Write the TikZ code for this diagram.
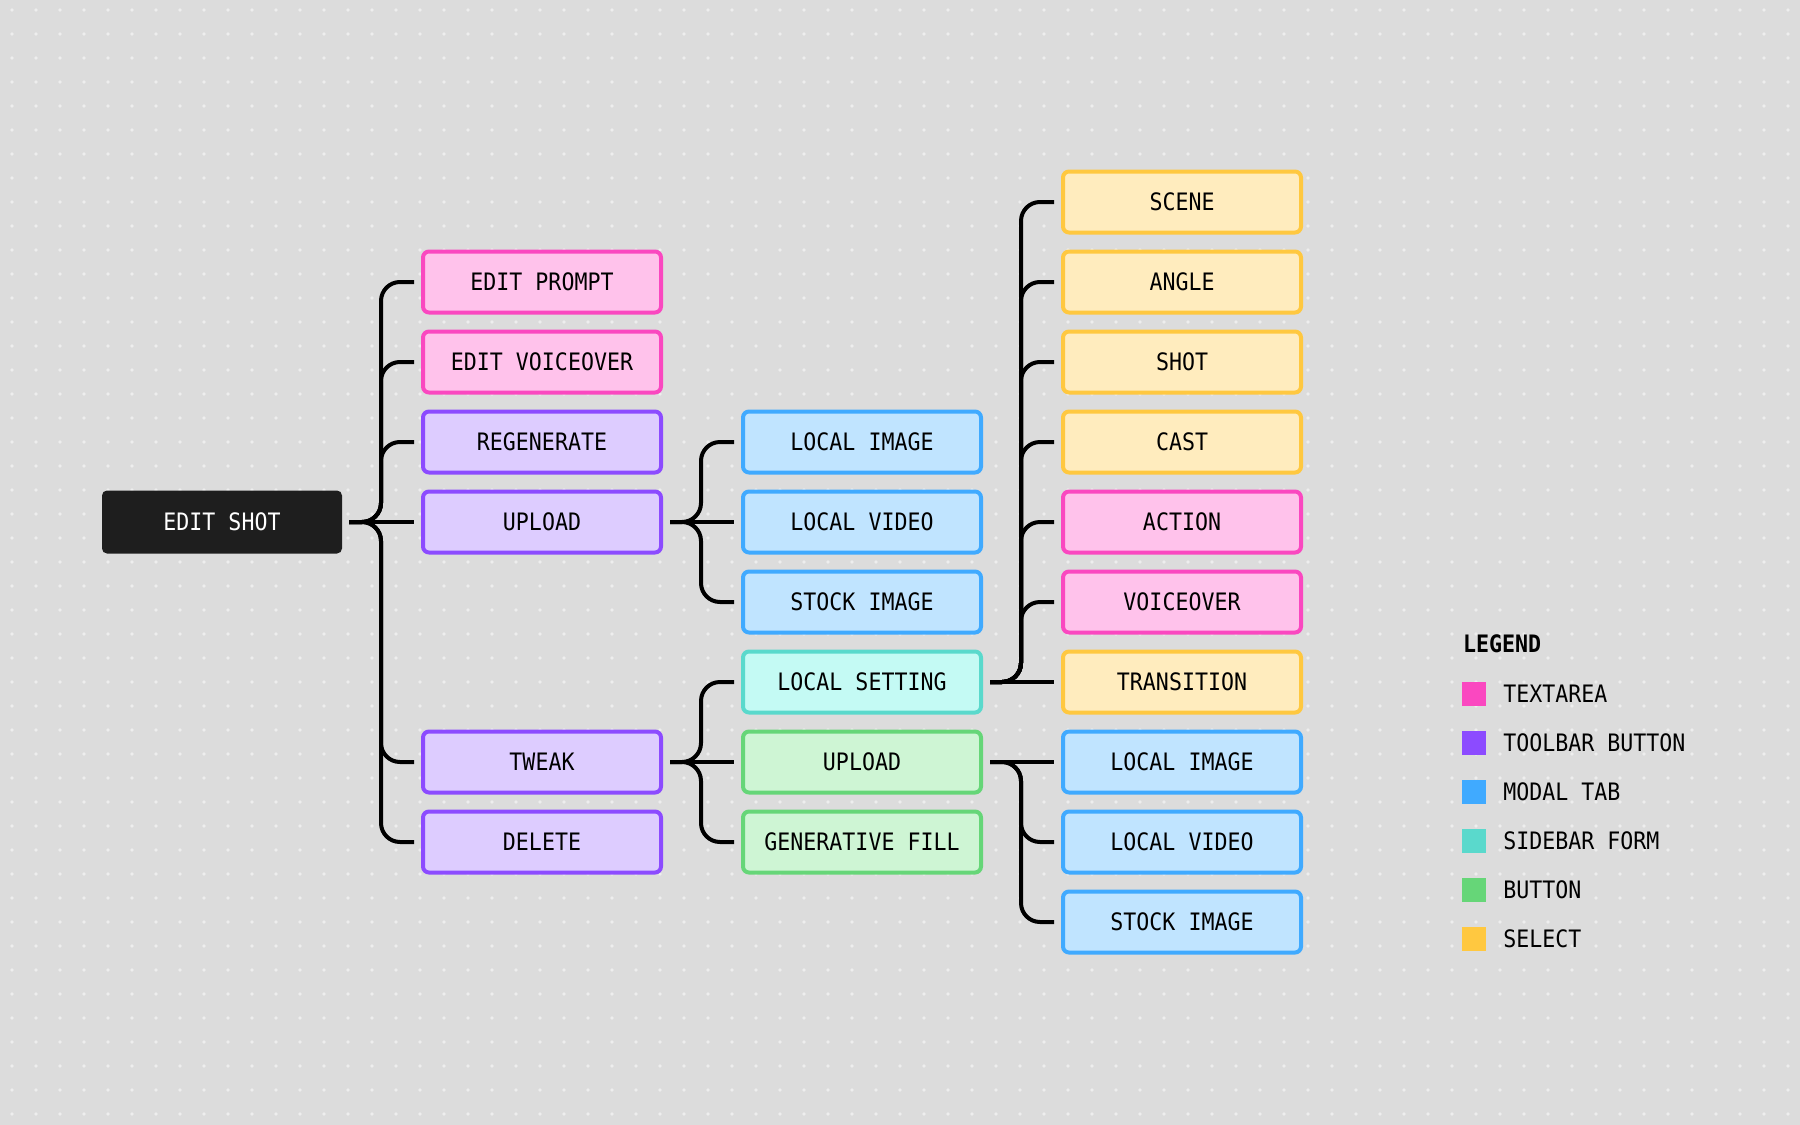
\documentclass[tikz,border=0pt]{standalone}
\usepackage{fontspec}
\setmonofont{DejaVu Sans Mono}[FakeStretch=0.9]
\usepackage{xcolor}
\usetikzlibrary{positioning}
\definecolor{bgc}{HTML}{DCDCDC}
\definecolor{dotc}{HTML}{EEEEEE}
\definecolor{dark}{HTML}{1E1E1E}
\definecolor{pinkline}{HTML}{FA48C0}
\definecolor{pinkfill}{HTML}{FFC2EB}
\definecolor{purpline}{HTML}{8C4BFF}
\definecolor{purpfill}{HTML}{DDCCFF}
\definecolor{blueline}{HTML}{40AAFF}
\definecolor{bluefill}{HTML}{C0E4FF}
\definecolor{tealline}{HTML}{5AD9CC}
\definecolor{tealfill}{HTML}{C4FAF4}
\definecolor{greenline}{HTML}{66D678}
\definecolor{greenfill}{HTML}{CEF5D4}
\definecolor{yellline}{HTML}{FFC840}
\definecolor{yellfill}{HTML}{FFECBE}

\begin{document}
\begin{tikzpicture}[x=1pt, y=-1pt,
  lbl/.style={inner sep=0pt, text height=17.5pt, text depth=0pt, font=\ttfamily\fontsize{24}{28}\selectfont},
  box/.style={lbl, draw, line width=4pt, rounded corners=6pt, minimum width=238pt, minimum height=61pt},
  textarea/.style={box, draw=pinkline, fill=pinkfill},
  toolbar/.style={box, draw=purpline, fill=purpfill},
  modaltab/.style={box, draw=blueline, fill=bluefill},
  sidebar/.style={box, draw=tealline, fill=tealfill},
  btn/.style={box, draw=greenline, fill=greenfill},
  selectbox/.style={box, draw=yellline, fill=yellfill},
  link/.style={line width=4pt, rounded corners=19pt},
  swatch/.style={minimum size=24pt, inner sep=0pt}]
\fill[bgc] (0,0) rectangle (1800,1125);
\useasboundingbox (0,0) rectangle (1800,1125);
\foreach \i in {0,...,74}
  \foreach \j in {0,...,46}
    \fill[dotc] (12+24*\i, 10+24*\j) circle (1.9);

\node[lbl, fill=dark, text=white, rounded corners=5pt, minimum width=240pt, minimum height=63pt] (shot) at (222, 522) {EDIT SHOT};

\node[textarea] (prompt) at (542, 282) {EDIT PROMPT};
\node[textarea] (voice) at (542, 362) {EDIT VOICEOVER};
\node[toolbar] (regen) at (542, 442) {REGENERATE};
\node[toolbar] (upload) at (542, 522) {UPLOAD};
\node[toolbar] (tweak) at (542, 762) {TWEAK};
\node[toolbar] (delete) at (542, 842) {DELETE};

\node[modaltab] (limage) at (862, 442) {LOCAL IMAGE};
\node[modaltab] (lvideo) at (862, 522) {LOCAL VIDEO};
\node[modaltab] (simage) at (862, 602) {STOCK IMAGE};
\node[sidebar] (lsetting) at (862, 682) {LOCAL SETTING};
\node[btn] (tupload) at (862, 762) {UPLOAD};
\node[btn] (genfill) at (862, 842) {GENERATIVE FILL};

\node[selectbox] (scene) at (1182, 202) {SCENE};
\node[selectbox] (angle) at (1182, 282) {ANGLE};
\node[selectbox] (shotsel) at (1182, 362) {SHOT};
\node[selectbox] (cast) at (1182, 442) {CAST};
\node[textarea] (action) at (1182, 522) {ACTION};
\node[textarea] (svoice) at (1182, 602) {VOICEOVER};
\node[selectbox] (trans) at (1182, 682) {TRANSITION};
\node[modaltab] (tlimage) at (1182, 762) {LOCAL IMAGE};
\node[modaltab] (tlvideo) at (1182, 842) {LOCAL VIDEO};
\node[modaltab] (tsimage) at (1182, 922) {STOCK IMAGE};

\foreach \a/\b in {shot/prompt, shot/voice, shot/regen, shot/tweak, shot/delete,
    upload/limage, upload/simage, tweak/lsetting, tweak/genfill,
    lsetting/scene, lsetting/angle, lsetting/shotsel, lsetting/cast, lsetting/action, lsetting/svoice,
    tupload/tlvideo, tupload/tsimage}
  \draw[link] ([xshift=7pt]\a.east) -| ([xshift=-40pt]\b.west) -- ([xshift=-7pt]\b.west);
\foreach \a/\b in {shot/upload, upload/lvideo, tweak/tupload, lsetting/trans, tupload/tlimage}
  \draw[line width=4pt] ([xshift=7pt]\a.east) -- ([xshift=-7pt]\b.west);

\node[lbl, font=\ttfamily\bfseries\fontsize{24}{28}\selectfont, anchor=base west] (lghead) at (1463, 652) {LEGEND};
\node[swatch, fill=pinkline] (lgta) at (1474, 694) {};
\node[swatch, fill=purpline] (lgtb) at (1474, 743) {};
\node[swatch, fill=blueline] (lgmt) at (1474, 792) {};
\node[swatch, fill=tealline] (lgsf) at (1474, 841) {};
\node[swatch, fill=greenline] (lgbt) at (1474, 890) {};
\node[swatch, fill=yellline] (lgse) at (1474, 939) {};
\node[lbl, right=17pt of lgta] {TEXTAREA};
\node[lbl, right=17pt of lgtb] {TOOLBAR BUTTON};
\node[lbl, right=17pt of lgmt] {MODAL TAB};
\node[lbl, right=17pt of lgsf] {SIDEBAR FORM};
\node[lbl, right=17pt of lgbt] {BUTTON};
\node[lbl, right=17pt of lgse] {SELECT};
\end{tikzpicture}
\end{document}
